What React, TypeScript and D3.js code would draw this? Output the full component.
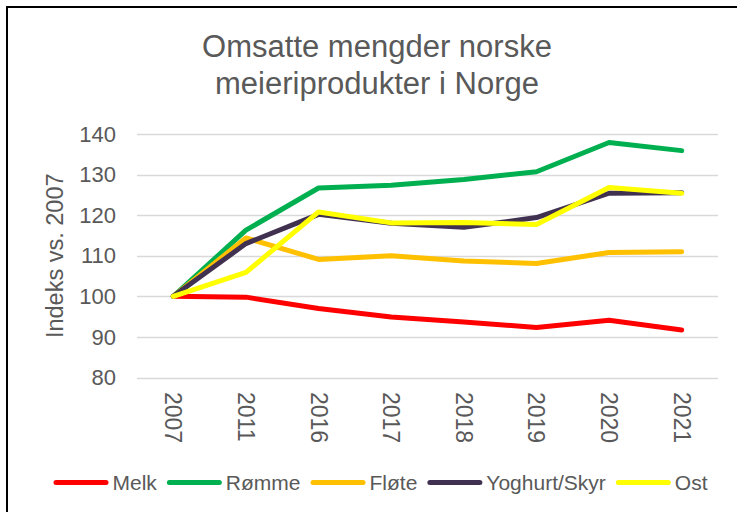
import React, { useEffect, useRef } from "react";
import * as d3 from "d3";

const years = ["2007", "2011", "2016", "2017", "2018", "2019", "2020", "2021"];
const seriesNames = ["Melk", "Rømme", "Fløte", "Yoghurt/Skyr", "Ost"];
const melk = [100, 99.8, 97.0, 94.9, 93.7, 92.3, 94.1, 91.7];
const romme = [100, 116.3, 126.7, 127.4, 128.8, 130.7, 137.9, 135.9];
const flote = [100, 114.4, 109.1, 110.0, 108.7, 108.1, 110.8, 111.0];
const yoghurt = [100, 113.0, 120.2, 118.0, 117.0, 119.4, 125.4, 125.5];
const ost = [100, 105.9, 120.8, 118.1, 118.2, 117.7, 126.8, 125.4];
const seriesColors = ["#FF0000", "#00B050", "#FFC000", "#403151", "#FFFF00"];
const yTicks = [80, 90, 100, 110, 120, 130, 140];
const titleLines = ["Omsatte mengder norske", "meieriprodukter i Norge"];
const yAxisTitle = "Indeks vs. 2007";

const allSeries = [melk, romme, flote, yoghurt, ost];

export default function App() {
  const ref = useRef<SVGSVGElement | null>(null);

  useEffect(() => {
    const svg = d3.select(ref.current);
    svg.selectAll("*").remove();
    const font = "Liberation Sans, Arial, sans-serif";
    const textColor = "#595959";

    // frame
    svg.append("rect").attr("width", 737).attr("height", 512).attr("fill", "#fff");
    svg
      .append("path")
      .attr("d", "M7,520 L7,7 L745,7")
      .attr("fill", "none")
      .attr("stroke", "#000")
      .attr("stroke-width", 2);

    // title
    svg
      .append("g")
      .selectAll("text")
      .data(titleLines)
      .join("text")
      .attr("x", 377)
      .attr("y", (_, i) => 57 + i * 37)
      .attr("text-anchor", "middle")
      .attr("font-family", font)
      .attr("font-size", 31)
      .attr("fill", textColor)
      .text((d) => d);

    const x = d3.scaleBand<string>().domain(years).range([137, 718]);
    const y = d3.scaleLinear().domain([80, 140]).range([377.5, 134]);
    const cx = (d: string) => (x(d) ?? 0) + x.bandwidth() / 2;

    // gridlines
    svg
      .append("g")
      .selectAll("line")
      .data(yTicks)
      .join("line")
      .attr("x1", 137)
      .attr("x2", 718)
      .attr("y1", (d) => Math.round(y(d)) + 0.5)
      .attr("y2", (d) => Math.round(y(d)) + 0.5)
      .attr("stroke", "#d9d9d9")
      .attr("stroke-width", 1.3);

    // y tick labels
    svg
      .append("g")
      .selectAll("text")
      .data(yTicks)
      .join("text")
      .attr("x", 116)
      .attr("y", (d) => y(d))
      .attr("dy", "0.35em")
      .attr("text-anchor", "end")
      .attr("font-family", font)
      .attr("font-size", 22)
      .attr("fill", textColor)
      .text((d) => String(d));

    // y axis title
    svg
      .append("text")
      .attr("transform", `translate(55,${(y(80) + y(140)) / 2}) rotate(-90)`)
      .attr("text-anchor", "middle")
      .attr("dominant-baseline", "central")
      .attr("font-family", font)
      .attr("font-size", 23.5)
      .attr("fill", textColor)
      .text(yAxisTitle);

    // x labels
    svg
      .append("g")
      .selectAll("text")
      .data(years)
      .join("text")
      .attr("transform", (d) => `translate(${cx(d)},392) rotate(90)`)
      .attr("text-anchor", "start")
      .attr("dominant-baseline", "central")
      .attr("font-family", font)
      .attr("font-size", 23)
      .attr("fill", textColor)
      .text((d) => d);

    // lines
    const line = d3
      .line<number>()
      .x((_, i) => cx(years[i]))
      .y((d) => y(d));
    svg
      .append("g")
      .selectAll("path")
      .data(allSeries)
      .join("path")
      .attr("d", (d) => line(d))
      .attr("fill", "none")
      .attr("stroke", (_, i) => seriesColors[i])
      .attr("stroke-width", 5)
      .attr("stroke-linejoin", "round")
      .attr("stroke-linecap", "round");

    // legend
    const lg = svg.append("g");
    const items = lg.selectAll("g").data(seriesNames).join("g");
    items
      .append("line")
      .attr("x1", 2.5)
      .attr("x2", 52.5)
      .attr("y1", 0)
      .attr("y2", 0)
      .attr("stroke", (_, i) => seriesColors[i])
      .attr("stroke-width", 5)
      .attr("stroke-linecap", "round");
    items
      .append("text")
      .attr("x", 59)
      .attr("y", 0)
      .attr("dy", "0.35em")
      .attr("font-family", font)
      .attr("font-size", 21)
      .attr("fill", textColor)
      .text((d) => d);
    const widths: number[] = [];
    items.each(function () {
      const t = d3.select(this).select("text").node() as SVGTextElement;
      widths.push(59 + t.getComputedTextLength());
    });
    const gap = 10;
    const total = d3.sum(widths) + gap * (widths.length - 1);
    let start = 380.5 - total / 2;
    const offsets: number[] = [];
    widths.forEach((w) => {
      offsets.push(start);
      start += w + gap;
    });
    items.attr("transform", (_, i) => `translate(${offsets[i]},482.5)`);
  }, []);

  return (
    <svg
      ref={ref}
      width={737}
      height={512}
      style={{ position: "absolute", left: 0, top: 0 }}
    />
  );
}
